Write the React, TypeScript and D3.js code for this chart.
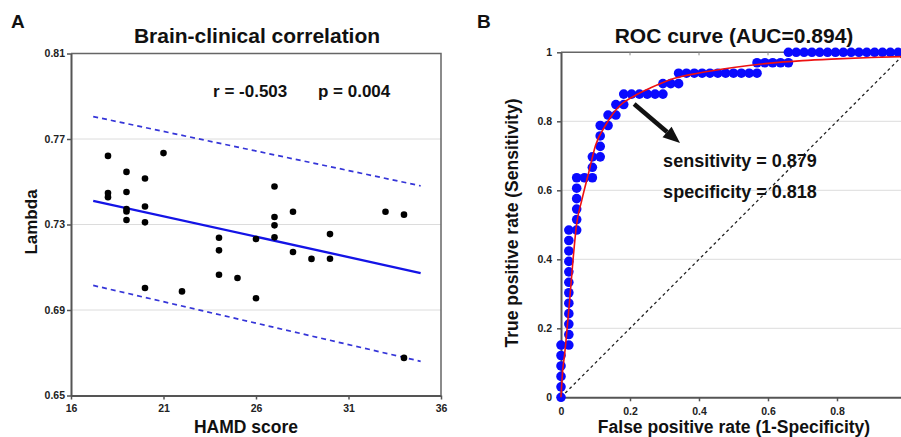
import React, { useEffect, useRef } from 'react';
import * as d3 from 'd3';

// ---- Panel A: brain-clinical correlation ----
const hamdScores = [18, 21, 19, 20, 18, 18, 19, 27, 19, 19, 20, 28, 27, 33, 34, 19, 20, 27, 27, 24, 24, 24, 25, 26, 26, 22, 20, 28, 29, 30, 30, 34];
const lambdaValues = [0.7621, 0.7634, 0.7546, 0.7515, 0.7447, 0.7428, 0.7452, 0.7478, 0.7372, 0.7361, 0.7384, 0.736, 0.7335, 0.736, 0.7346, 0.7321, 0.731, 0.7296, 0.724, 0.7238, 0.7179, 0.7065, 0.705, 0.7232, 0.6955, 0.6987, 0.7003, 0.7171, 0.7139, 0.7255, 0.714, 0.6676];
const fitX = [17.2, 34.9];
const fitY = [0.7411, 0.7073];
const upperBandY = [0.7805, 0.7481];
const lowerBandY = [0.7015, 0.666];
const hamdTicks = [16, 21, 26, 31, 36];
const lambdaTicks = [0.65, 0.69, 0.73, 0.77, 0.81];

// ---- Panel B: ROC curve ----
const nNegative = 44;
const nPositive = 33;
const rocFalsePos = [0, 0, 0, 0, 0, 0, 1, 1, 1, 1, 1, 1, 1, 1, 1, 1, 1, 1, 2, 2, 2, 2, 2, 2, 3, 4, 4, 4, 5, 5, 5, 5, 6, 6, 7, 7, 8, 8, 9, 10, 11, 12, 13, 13, 14, 15, 15, 16, 17, 18, 19, 20, 21, 22, 23, 24, 25, 25, 26, 27, 28, 29, 29, 30, 31, 32, 33, 34, 35, 36, 37, 38, 39, 40, 41, 42, 43, 44];
const rocTruePos = [0, 1, 2, 3, 4, 5, 5, 6, 7, 8, 9, 10, 11, 12, 13, 14, 15, 16, 16, 17, 18, 19, 20, 21, 21, 21, 22, 23, 23, 24, 25, 26, 26, 27, 27, 28, 28, 29, 29, 29, 29, 29, 29, 30, 30, 30, 31, 31, 31, 31, 31, 31, 31, 31, 31, 31, 31, 32, 32, 32, 32, 32, 33, 33, 33, 33, 33, 33, 33, 33, 33, 33, 33, 33, 33, 33, 33, 33];
const fittedFpr = [0, 0.005, 0.01, 0.015, 0.025, 0.035, 0.045, 0.06, 0.08, 0.1, 0.13, 0.17, 0.21, 0.26, 0.32, 0.4, 0.5, 0.6, 0.7, 0.8, 0.9, 1.0];
const fittedTpr = [0, 0.08, 0.12, 0.17, 0.28, 0.4, 0.5, 0.57, 0.65, 0.73, 0.79, 0.845, 0.872, 0.897, 0.922, 0.94, 0.956, 0.968, 0.976, 0.981, 0.985, 0.988];
const rateTicks = [0, 0.2, 0.4, 0.6, 0.8, 1];
const fprLabelTicks = [0, 0.2, 0.4, 0.6, 0.8];
const arrowFrom = [0.212, 0.85];
const arrowTo = [0.345, 0.737];

const FONT = '"Liberation Sans", Arial, Helvetica, sans-serif';

const styleAxis = (g: any) => {
  g.select('.domain').attr('stroke', '#555').attr('stroke-width', 2);
  g.selectAll('.tick line').attr('stroke', '#555').attr('stroke-width', 1.5);
  g.selectAll('.tick text')
    .attr('fill', '#222')
    .style('font-family', FONT)
    .style('font-weight', 'bold')
    .style('font-size', '10.5px');
};

const drawScatter = (g: any) => {
  const x = d3.scaleLinear().domain([16, 36]).range([71, 441]);
  const y = d3.scaleLinear().domain([0.65, 0.81]).range([395.5, 53.5]);

  // gridlines
  g.append('g')
    .selectAll('line')
    .data(lambdaTicks.filter(t => t > 0.65 && t < 0.81))
    .join('line')
    .attr('x1', x(16)).attr('x2', x(36))
    .attr('y1', d => y(d)).attr('y2', d => y(d))
    .attr('stroke', '#dcdcdc').attr('stroke-width', 1);

  // frame top / right
  g.append('path')
    .attr('d', `M${x(16)},${y(0.81)}H${x(36)}V${y(0.65)}`)
    .attr('fill', 'none').attr('stroke', '#666').attr('stroke-width', 1.5);

  g.append('g')
    .attr('transform', `translate(${x(16)},0)`)
    .call(d3.axisLeft(y).tickValues(lambdaTicks).tickSize(4).tickSizeOuter(0).tickPadding(2).tickFormat(d3.format('.2f')))
    .call(styleAxis);

  g.append('g')
    .attr('transform', `translate(0,${y(0.65)})`)
    .call(d3.axisBottom(x).tickValues(hamdTicks).tickSize(4).tickSizeOuter(0).tickPadding(5).tickFormat(d3.format('d')))
    .call(styleAxis);

  // prediction bands and fit
  const line = d3.line<number>().x((d, i) => x(fitX[i])).y(d => y(d));
  [upperBandY, lowerBandY].forEach(band => {
    g.append('path')
      .attr('d', line(band))
      .attr('fill', 'none').attr('stroke', '#3535d8').attr('stroke-width', 1.7)
      .attr('stroke-dasharray', '5,4');
  });
  g.append('path')
    .attr('d', line(fitY))
    .attr('fill', 'none').attr('stroke', '#1414e6').attr('stroke-width', 2.3);

  g.append('g')
    .selectAll('circle')
    .data(hamdScores)
    .join('circle')
    .attr('cx', d => x(d))
    .attr('cy', (d, i) => y(lambdaValues[i]))
    .attr('r', 3.3)
    .attr('fill', '#000');

  const txt = (tx: number, ty: number, s: string, size: number, anchor = 'start', rotate = false) =>
    g.append('text')
      .attr('transform', `translate(${tx},${ty})${rotate ? ' rotate(-90)' : ''}`)
      .attr('text-anchor', anchor)
      .attr('fill', '#111')
      .style('font-family', FONT).style('font-weight', 'bold').style('font-size', `${size}px`)
      .text(s);

  txt(x(23.68), y(0.7898), 'r = -0.503', 17);
  txt(x(29.35), y(0.7898), 'p = 0.004', 17);
  txt(257, 42.7, 'Brain-clinical correlation', 21, 'middle');
  txt(246, 433, 'HAMD score', 17.5, 'middle');
  txt(37, 222, 'Lambda', 17, 'middle', true);
  txt(11, 28.3, 'A', 19);
};

const drawRoc = (g: any) => {
  const x = d3.scaleLinear().domain([0, 1]).range([561, 906]);
  const y = d3.scaleLinear().domain([0, 1]).range([397.3, 52.3]);

  g.append('g')
    .selectAll('line')
    .data(rateTicks.filter(t => t > 0 && t < 1))
    .join('line')
    .attr('x1', x(0)).attr('x2', x(1))
    .attr('y1', d => y(d)).attr('y2', d => y(d))
    .attr('stroke', '#dcdcdc').attr('stroke-width', 1);

  // frame top
  g.append('path')
    .attr('d', `M${x(0)},${y(1)}H${x(1)}V${y(0)}`)
    .attr('fill', 'none').attr('stroke', '#666').attr('stroke-width', 1.5);
  g.append('g')
    .selectAll('line')
    .data(rateTicks.filter(t => t > 0 && t < 1))
    .join('line')
    .attr('x1', d => x(d)).attr('x2', d => x(d))
    .attr('y1', y(1)).attr('y2', y(1) + 3)
    .attr('stroke', '#888').attr('stroke-width', 1);

  g.append('g')
    .attr('transform', `translate(${x(0)},0)`)
    .call(d3.axisLeft(y).tickValues(rateTicks).tickSize(4).tickSizeOuter(0).tickPadding(5).tickFormat(d => `${d}`))
    .call(styleAxis);

  g.append('g')
    .attr('transform', `translate(0,${y(0)})`)
    .call(d3.axisBottom(x).tickValues(fprLabelTicks).tickSize(4).tickSizeOuter(0).tickPadding(6).tickFormat(d => `${d}`))
    .call(styleAxis);

  // chance diagonal
  g.append('line')
    .attr('x1', x(0)).attr('y1', y(0)).attr('x2', x(1)).attr('y2', y(1))
    .attr('stroke', '#222').attr('stroke-width', 1.3).attr('stroke-dasharray', '3,3');

  g.append('g')
    .selectAll('circle')
    .data(rocFalsePos)
    .join('circle')
    .attr('cx', d => x(d / nNegative))
    .attr('cy', (d, i) => y(rocTruePos[i] / nPositive))
    .attr('r', 4.8)
    .attr('fill', '#0a0aff');

  const curve = d3.line<number>()
    .x(d => x(d))
    .y((d, i) => y(fittedTpr[i]))
    .curve(d3.curveMonotoneX);
  g.append('path')
    .attr('d', curve(fittedFpr))
    .attr('fill', 'none').attr('stroke', '#ee1111').attr('stroke-width', 1.6);

  // arrow
  const [x0, y0] = [x(arrowFrom[0]), y(arrowFrom[1])];
  const [x1, y1] = [x(arrowTo[0]), y(arrowTo[1])];
  const ang = Math.atan2(y1 - y0, x1 - x0);
  const headLen = 17, headW = 7;
  const bx = x1 - headLen * Math.cos(ang), by = y1 - headLen * Math.sin(ang);
  g.append('line')
    .attr('x1', x0).attr('y1', y0).attr('x2', bx).attr('y2', by)
    .attr('stroke', '#111').attr('stroke-width', 4.5);
  g.append('path')
    .attr('d', `M${x1},${y1}L${bx + headW * Math.sin(ang)},${by - headW * Math.cos(ang)}L${bx - headW * Math.sin(ang)},${by + headW * Math.cos(ang)}Z`)
    .attr('fill', '#111');

  const txt = (tx: number, ty: number, s: string, size: number, anchor = 'start', rotate = false) =>
    g.append('text')
      .attr('transform', `translate(${tx},${ty})${rotate ? ' rotate(-90)' : ''}`)
      .attr('text-anchor', anchor)
      .attr('fill', '#111')
      .style('font-family', FONT).style('font-weight', 'bold').style('font-size', `${size}px`)
      .text(s);

  txt(x(0.296), y(0.667), 'sensitivity = 0.879', 18);
  txt(x(0.296), y(0.577), 'specificity = 0.818', 18);
  txt(734, 42.7, 'ROC curve (AUC=0.894)', 21, 'middle');
  txt(734, 433, 'False positive rate (1-Specificity)', 17.5, 'middle');
  txt(518, 223, 'True positive rate (Sensitivity)', 17.5, 'middle', true);
  txt(477, 28.3, 'B', 19);
};

const App = () => {
  const svgRef = useRef<SVGSVGElement>(null);

  useEffect(() => {
    const svg = d3.select(svgRef.current);
    svg.selectAll('*').remove();
    drawScatter(svg.append('g'));
    drawRoc(svg.append('g'));
  }, []);

  return (
    <svg
      ref={svgRef}
      width={901}
      height={437}
      style={{ position: 'absolute', left: 0, top: 0, background: '#fff' }}
    />
  );
};

export default App;
